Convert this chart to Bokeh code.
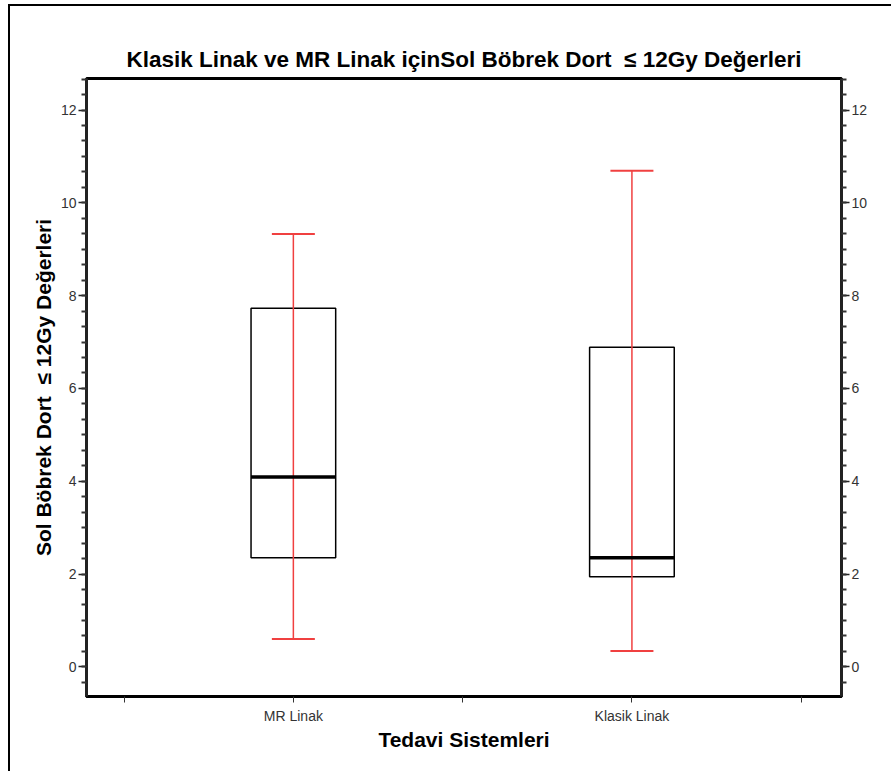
from bokeh.plotting import figure
from bokeh.models import (Range1d, LinearAxis, FixedTicker, SingleIntervalTicker,
                          ColumnDataSource)
from bokeh.embed import file_html
from bokeh.resources import INLINE

# ---- data ----
categories = ["MR Linak", "Klasik Linak"]
xpos = [1, 2]
lower = [0.60, 0.34]
q1 = [2.35, 1.94]
median = [4.09, 2.35]
q3 = [7.73, 6.89]
upper = [9.33, 10.69]

box_w = 0.25
cap_w = 0.127

src = ColumnDataSource(dict(
    x=xpos,
    left=[x - box_w / 2 for x in xpos],
    right=[x + box_w / 2 for x in xpos],
    cl=[x - cap_w / 2 for x in xpos],
    cr=[x + cap_w / 2 for x in xpos],
    lower=lower, q1=q1, median=median, q3=q3, upper=upper,
))

FONT = "Liberation Sans"
RED = "#f04040"
NB = "\u00a0"

# page offset of the outer border
OX, OY = 8, 4
W, H = 891 - OX, 771 - OY

p = figure(width=W, height=H, output_backend="svg", toolbar_location=None,
           x_range=Range1d(0.389, 2.619), y_range=Range1d(-0.64, 12.68),
           min_border_left=87 - OX - 3, min_border_right=891 - 842 + 3,
           min_border_top=78 - OY - 2, min_border_bottom=H - (696 - OY) + 2,
           title="Klasik Linak ve MR Linak içinSol Böbrek Dort" + NB + " ≤ 12Gy Değerleri")
p.margin = (OY, 0, 0, OX)
p.styles = {"border-top": "2px solid black", "border-left": "2px solid black",
            "box-sizing": "border-box"}

p.xgrid.visible = False
p.ygrid.visible = False
p.outline_line_color = "black"
p.outline_line_width = 3
p.outline_line_alpha = 1
p.background_fill_color = "white"
p.border_fill_color = "white"

p.title.align = "center"
p.title.text_font = FONT
p.title.text_font_size = "22.5px"
p.title.text_font_style = "bold"
p.title.text_color = "black"
p.title.standoff = 14

p.quad(left="left", right="right", bottom="q1", top="q3", source=src,
       fill_color="white", line_color="black", line_width=1.5)
p.segment(x0="x", x1="x", y0="lower", y1="upper", source=src,
          line_color=RED, line_width=1.5)
p.segment(x0="cl", x1="cr", y0="upper", y1="upper", source=src,
          line_color=RED, line_width=2)
p.segment(x0="cl", x1="cr", y0="lower", y1="lower", source=src,
          line_color=RED, line_width=2)
p.segment(x0="left", x1="right", y0="median", y1="median", source=src,
          line_color="black", line_width=3.5)

# x axis
xa = p.xaxis[0]
xa.ticker = FixedTicker(ticks=[0.5, 1, 1.5, 2, 2.5])
xa.major_label_overrides = {0.5: "", 1: categories[0], 1.5: "", 2: categories[1], 2.5: ""}
xa.axis_label = "Tedavi Sistemleri"
xa.axis_label_text_font = FONT
xa.axis_label_text_font_size = "21px"
xa.axis_label_text_font_style = "bold"
xa.axis_label_text_color = "black"
xa.axis_label_standoff = 1
xa.major_label_text_font = FONT
xa.major_label_text_font_size = "14px"
xa.major_label_text_color = "#333333"
xa.major_label_standoff = 5
xa.axis_line_width = 3
xa.axis_line_color = "black"
xa.major_tick_out = 6
xa.major_tick_in = 0
xa.major_tick_line_color = "#333333"
xa.minor_tick_line_color = None

def style_y(ax):
    ax.ticker = SingleIntervalTicker(interval=2, num_minor_ticks=6)
    ax.major_label_text_font = FONT
    ax.major_label_text_font_size = "14px"
    ax.major_label_text_color = "#333333"
    ax.major_label_standoff = 2
    ax.axis_line_width = 3
    ax.axis_line_color = "#222222"
    ax.major_tick_out = 8
    ax.major_tick_in = 0
    ax.minor_tick_out = 5
    ax.minor_tick_in = 0
    ax.major_tick_line_width = 1.5
    ax.minor_tick_line_width = 2
    ax.major_tick_line_color = "#222222"
    ax.minor_tick_line_color = "#333333"

ya = p.yaxis[0]
style_y(ya)
ya.axis_label = "Sol Böbrek Dort" + NB + " ≤ 12Gy Değerleri"
ya.axis_label_text_font = FONT
ya.axis_label_text_font_size = "21px"
ya.axis_label_text_font_style = "bold"
ya.axis_label_text_color = "black"
ya.axis_label_standoff = 3

ry = LinearAxis()
style_y(ry)
p.add_layout(ry, "right")

open("out.html", "w").write(file_html(p, INLINE))
